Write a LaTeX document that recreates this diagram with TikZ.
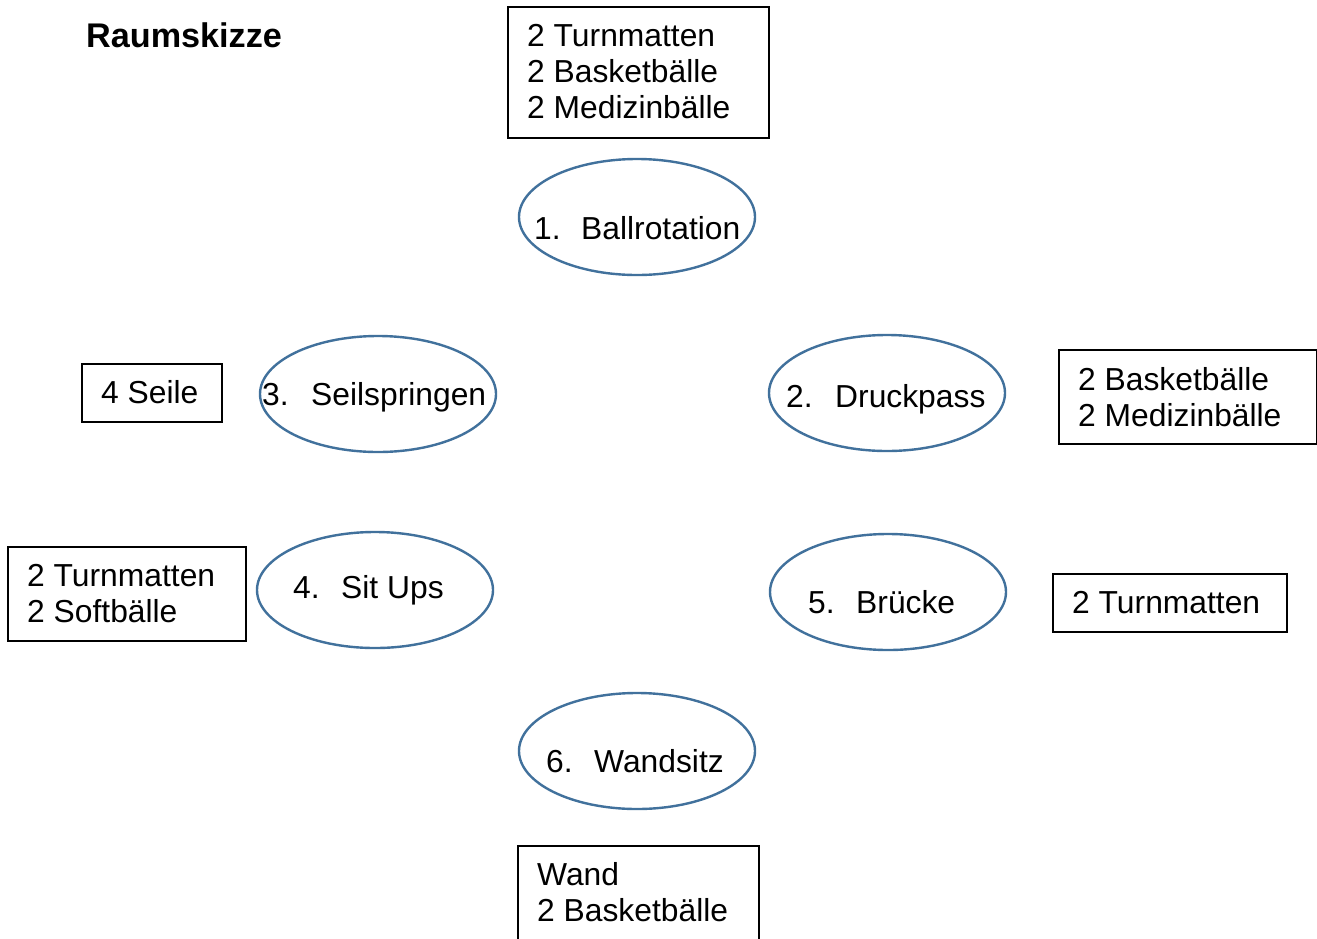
\documentclass[tikz,border=0pt]{standalone}
\usepackage{fontspec}
\setmainfont{Liberation Sans}
\usetikzlibrary{shapes.geometric}
\definecolor{ellblue}{HTML}{41719C}
\tikzset{
  station/.style={draw=ellblue, line width=2.4pt, ellipse, minimum width=236pt, minimum height=116pt, inner sep=0pt},
  gear/.style={draw=black, line width=1.6pt, rectangle, inner sep=0pt, anchor=north west},
  lbl/.style={inner sep=0pt, anchor=base west, font=\fontsize{31.8}{36}\selectfont},
  ttl/.style={inner sep=0pt, anchor=base west, font=\fontsize{34.2}{40}\selectfont\bfseries}
}
\begin{document}
\begin{tikzpicture}[x=1pt,y=-1pt]
\useasboundingbox (0,0) rectangle (1317,938);
\fill[white] (0,0) rectangle (1317,938);
\node[ttl] (title) at (86,47) {Raumskizze};
% boxes
\node[gear, minimum width=261pt, minimum height=131pt] (b1) at (507,6) {};
\node[lbl] (b1a) at (527,46) {2 Turnmatten};
\node[lbl] (b1b) at (527,82) {2 Basketbälle};
\node[lbl] (b1c) at (527,118) {2 Medizinbälle};
\node[gear, minimum width=140pt, minimum height=58pt] (b3) at (81,363) {};
\node[lbl] (b3a) at (101,403) {4 Seile};
\node[gear, minimum width=258pt, minimum height=94pt] (b2) at (1058,349) {};
\node[lbl] (b2a) at (1078,390) {2 Basketbälle};
\node[lbl] (b2b) at (1078,426) {2 Medizinbälle};
\node[gear, minimum width=238pt, minimum height=94pt] (b4) at (7,546) {};
\node[lbl] (b4a) at (27,586) {2 Turnmatten};
\node[lbl] (b4b) at (27,622) {2 Softbälle};
\node[gear, minimum width=234pt, minimum height=58pt] (b5) at (1052,573) {};
\node[lbl] (b5a) at (1072,613) {2 Turnmatten};
\node[gear, minimum width=241pt, minimum height=110pt] (b6) at (517,845) {};
\node[lbl] (b6a) at (537,885) {Wand};
\node[lbl] (b6b) at (537,921) {2 Basketbälle};
% stations
\node[station] (e1) at (637,217) {};
\node[lbl] (n1) at (534,239) {1.};
\node[lbl] (t1) at (581,239) {Ballrotation};
\node[station] (e3) at (378,394) {};
\node[lbl] (n3) at (262,405) {3.};
\node[lbl] (t3) at (311,405) {Seilspringen};
\node[station] (e2) at (887,393) {};
\node[lbl] (n2) at (786,407) {2.};
\node[lbl] (t2) at (835,407) {Druckpass};
\node[station] (e4) at (375,590) {};
\node[lbl] (n4) at (293,598) {4.};
\node[lbl] (t4) at (341,598) {Sit Ups};
\node[station] (e5) at (888,592) {};
\node[lbl] (n5) at (808,613) {5.};
\node[lbl] (t5) at (856,613) {Brücke};
\node[station] (e6) at (637,751) {};
\node[lbl] (n6) at (546,772) {6.};
\node[lbl] (t6) at (594,772) {Wandsitz};
\end{tikzpicture}
\end{document}
